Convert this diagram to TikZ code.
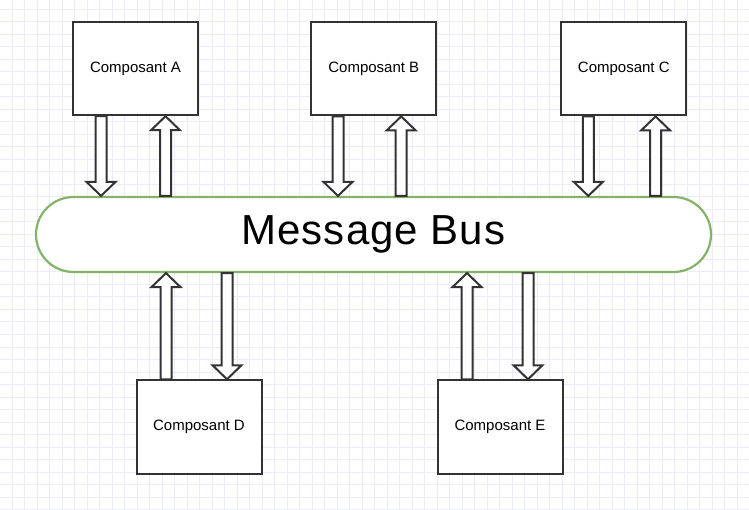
\documentclass[tikz,border=0pt]{standalone}
\usepackage{fontspec}
\setmainfont{Liberation Sans}
\usetikzlibrary{calc}
\definecolor{gridc}{RGB}{236,235,251}
\definecolor{dk}{RGB}{51,51,51}
\definecolor{busg}{RGB}{130,179,102}
\tikzset{
  comp/.style={draw=dk, line width=2pt, fill=white, minimum width=125pt, minimum height=93.5pt,
    inner sep=0pt, font=\fontsize{15}{18}\selectfont},
  busbox/.style={draw=busg, line width=2.2pt, fill=white, minimum width=675pt, minimum height=75pt,
    rounded corners=37.5pt, inner sep=0pt},
  barrow/.style={draw=dk, fill=white, line width=2pt, line join=miter},
  gridline/.style={draw=gridc, line width=1pt}
}
\newcommand\barr[2]{%
  \draw[barrow] let \p1=(#1), \p2=(#2), \n1={sign(\y2-\y1)} in
    ({\x1-5.5pt},\y1) -- ({\x1+5.5pt},\y1) -- ({\x1+5.5pt},{\y2-\n1*14pt})
    -- ({\x1+14.5pt},{\y2-\n1*14pt}) -- (\x1,\y2) -- ({\x1-14.5pt},{\y2-\n1*14pt})
    -- ({\x1-5.5pt},{\y2-\n1*14pt}) -- cycle;}
\begin{document}
\begin{tikzpicture}[x=1pt,y=-1pt]
\useasboundingbox (0,0) rectangle (749,510);
\fill[white] (0,0) rectangle (749,510);
\foreach \i in {0,...,59} \draw[gridline] ({12+12.5*\i},0) -- ({12+12.5*\i},510);
\foreach \i in {0,...,40} \draw[gridline] (0,{9.5+12.5*\i}) -- (749,{9.5+12.5*\i});

\node[busbox] (bus) at (373.5,234.5) {\raisebox{-0.5pt}{\fontsize{42}{48}\selectfont\addfontfeature{LetterSpace=2.5}Message Bus}};

\node[comp] (A) at (135.5,68.5) {\raisebox{-1.2pt}{Composant A}};
\node[comp] (B) at (373.8,68.7) {\raisebox{-1.2pt}{Composant B}};
\node[comp] (C) at (623.8,68.7) {\raisebox{-1.2pt}{Composant C}};
\node[comp] (D) at (199,427) {\raisebox{-1.2pt}{Composant D}};
\node[comp] (E) at (500,427) {\raisebox{-1.2pt}{Composant E}};

\coordinate (a1) at ($(A.south west)+(29,0)$);
\coordinate (a2) at ($(A.south west)+(93.5,0)$);
\coordinate (b1) at ($(B.south west)+(27.7,0)$);
\coordinate (b2) at ($(B.south west)+(90.9,0)$);
\coordinate (c1) at ($(C.south west)+(28,0)$);
\coordinate (c2) at ($(C.south west)+(95.3,0)$);
\coordinate (d1) at ($(D.north west)+(30.5,0)$);
\coordinate (d2) at ($(D.north west)+(91.5,0)$);
\coordinate (e1) at ($(E.north west)+(30.5,0)$);
\coordinate (e2) at ($(E.north west)+(91.5,0)$);

\barr{a1}{a1 |- bus.north}
\barr{a2 |- bus.north}{a2}
\barr{b1}{b1 |- bus.north}
\barr{b2 |- bus.north}{b2}
\barr{c1}{c1 |- bus.north}
\barr{c2 |- bus.north}{c2}
\barr{d1}{d1 |- bus.south}
\barr{d2 |- bus.south}{d2}
\barr{e1}{e1 |- bus.south}
\barr{e2 |- bus.south}{e2}
\end{tikzpicture}
\end{document}
